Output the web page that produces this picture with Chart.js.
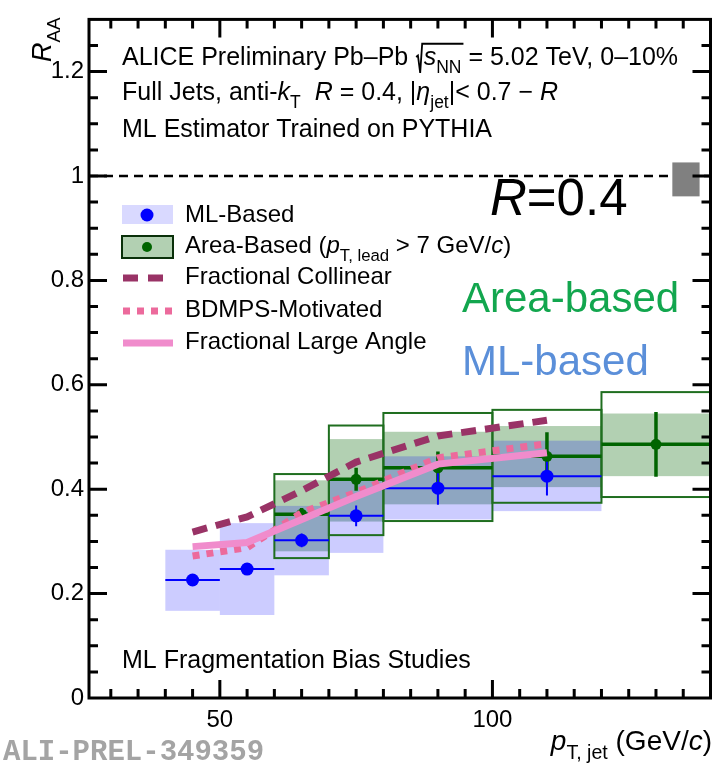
<!DOCTYPE html>
<html>
<head>
<meta charset="utf-8">
<script src="https://cdn.jsdelivr.net/npm/chart.js@4.4.1/dist/chart.umd.min.js"></script>
<style>
  html, body { margin: 0; padding: 0; background: #fff; }
  canvas { display: block; }
</style>
</head>
<body>
<canvas id="raa" width="717" height="768"></canvas>
<script>
// ML-based estimator: bins, values, uncertainties
const ML_LO = [40, 50, 60, 70, 80, 100];
const ML_HI = [50, 60, 70, 80, 100, 120];
const ML_X = [45, 55, 65, 75, 90, 110];
const ML_Y = [0.226, 0.247, 0.302, 0.349, 0.402, 0.425];
const ML_STAT = [0.006, 0.006, 0.013, 0.02, 0.032, 0.037];
const ML_SYS_LO = [0.167, 0.159, 0.235, 0.278, 0.342, 0.358];
const ML_SYS_HI = [0.284, 0.335, 0.368, 0.42, 0.463, 0.493];

// area-based subtraction (pT,lead > 7 GeV/c)
const AREA_LO = [60, 70, 80, 100, 120];
const AREA_HI = [70, 80, 100, 120, 140];
const AREA_X = [65, 75, 90, 110, 130];
const AREA_Y = [0.352, 0.419, 0.441, 0.463, 0.486];
const AREA_STAT = [0.012, 0.022, 0.031, 0.046, 0.062];
const AREA_SYS_LO = [0.281, 0.338, 0.371, 0.404, 0.425];
const AREA_SYS_HI = [0.417, 0.496, 0.51, 0.521, 0.545];
const AREA_SHAPE_LO = [0.268, 0.312, 0.339, 0.374, 0.385];
const AREA_SHAPE_HI = [0.429, 0.522, 0.546, 0.552, 0.586];

// fragmentation bias studies
const MODEL_X = [45, 55, 65, 75, 90, 110];
const COLLINEAR = [0.318, 0.347, 0.397, 0.452, 0.502, 0.532];
const BDMPS = [0.272, 0.288, 0.355, 0.394, 0.46, 0.487];
const LARGE_ANGLE = [0.29, 0.298, 0.342, 0.386, 0.448, 0.47];

// normalisation uncertainty drawn at unity
const NORM_X = [133, 138];
const NORM_Y = [0.961, 1.026];

const X_TICKS = [50, 100];
const Y_TICKS = [0, 0.2, 0.4, 0.6, 0.8, 1, 1.2];

const FONT = '"Liberation Sans", Arial, Helvetica, sans-serif';
const ML_BLUE = '#0000ff';
const AREA_GREEN = '#006400';
const C_COLLINEAR = '#993366';
const C_BDMPS = '#ec6a9c';
const C_LARGE = '#f08ccc';

const toPoints = (xs, ys) => xs.map((v, i) => ({ x: v, y: ys[i] }));

// text with italic / subscript runs, returns end x
function rich(ctx, x, y, runs, size) {
  let cx = x;
  for (const [t, st] of runs) {
    const sub = st.includes('sub');
    const fs = sub ? size * 0.7 : size;
    ctx.font = (st.includes('i') ? 'italic ' : '') + fs + 'px ' + FONT;
    ctx.fillText(t, cx, sub ? y + size * 0.33 : y);
    cx += ctx.measureText(t).width;
  }
  return cx;
}

function richWidth(ctx, runs, size) {
  let w = 0;
  for (const [t, st] of runs) {
    const fs = st.includes('sub') ? size * 0.7 : size;
    ctx.font = (st.includes('i') ? 'italic ' : '') + fs + 'px ' + FONT;
    w += ctx.measureText(t).width;
  }
  return w;
}

const whiteBg = {
  id: 'whiteBg',
  beforeDraw(chart) {
    const { ctx } = chart;
    ctx.save();
    ctx.fillStyle = '#fff';
    ctx.fillRect(0, 0, chart.width, chart.height);
    ctx.restore();
  }
};

// uncertainty boxes, bin-width bars, statistical bars, unity line
const errorBoxes = {
  id: 'errorBoxes',
  beforeDatasetsDraw(chart) {
    const { ctx, chartArea: a, scales: { x, y } } = chart;
    const box = (x0, x1, y0, y1) => {
      const l = x.getPixelForValue(x0), r = x.getPixelForValue(x1);
      const t = y.getPixelForValue(y1), b = y.getPixelForValue(y0);
      return [l, t, r - l, b - t];
    };
    ctx.save();
    ctx.beginPath();
    ctx.rect(a.left, a.top, a.width, a.height);
    ctx.clip();

    // R_AA = 1 reference
    ctx.strokeStyle = '#000';
    ctx.lineWidth = 2.5;
    ctx.setLineDash([9, 6]);
    ctx.beginPath();
    ctx.moveTo(a.left, y.getPixelForValue(1));
    ctx.lineTo(a.right, y.getPixelForValue(1));
    ctx.stroke();
    ctx.setLineDash([]);

    ctx.fillStyle = '#808080';
    ctx.fillRect(...box(NORM_X[0], NORM_X[1], NORM_Y[0], NORM_Y[1]));

    ctx.fillStyle = 'rgba(0,100,0,0.3)';
    AREA_X.forEach((_, i) => ctx.fillRect(...box(AREA_LO[i], AREA_HI[i], AREA_SYS_LO[i], AREA_SYS_HI[i])));

    ctx.fillStyle = 'rgba(0,0,255,0.2)';
    ML_X.forEach((_, i) => ctx.fillRect(...box(ML_LO[i], ML_HI[i], ML_SYS_LO[i], ML_SYS_HI[i])));

    ctx.strokeStyle = '#1f6e1f';
    ctx.lineWidth = 2;
    AREA_X.forEach((_, i) => ctx.strokeRect(...box(AREA_LO[i], AREA_HI[i], AREA_SHAPE_LO[i], AREA_SHAPE_HI[i])));

    const bars = (xs, ys, lo, hi, err, color, w) => {
      ctx.strokeStyle = color;
      ctx.lineWidth = w;
      ctx.beginPath();
      xs.forEach((v, i) => {
        const px = x.getPixelForValue(v), py = y.getPixelForValue(ys[i]);
        ctx.moveTo(x.getPixelForValue(lo[i]), py);
        ctx.lineTo(x.getPixelForValue(hi[i]), py);
        ctx.moveTo(px, y.getPixelForValue(ys[i] - err[i]));
        ctx.lineTo(px, y.getPixelForValue(ys[i] + err[i]));
      });
      ctx.stroke();
    };
    bars(AREA_X, AREA_Y, AREA_LO, AREA_HI, AREA_STAT, AREA_GREEN, 3.5);
    bars(ML_X, ML_Y, ML_LO, ML_HI, ML_STAT, ML_BLUE, 2);
    ctx.restore();
  }
};

// frame with inward ticks on all four sides
const frameTicks = {
  id: 'frameTicks',
  afterDraw(chart) {
    const { ctx, chartArea: a, scales: { x, y } } = chart;
    ctx.save();
    ctx.strokeStyle = '#000';
    ctx.lineWidth = 3;
    ctx.beginPath();
    for (let v = 30; v < 140; v += 5) {
      const px = x.getPixelForValue(v);
      const len = X_TICKS.includes(v) ? 18 : 9;
      ctx.moveTo(px, a.bottom); ctx.lineTo(px, a.bottom - len);
      ctx.moveTo(px, a.top); ctx.lineTo(px, a.top + len);
    }
    for (let k = 1; k < 26; k++) {
      const py = y.getPixelForValue(k * 0.05);
      const len = k % 4 === 0 ? 18 : 9;
      ctx.moveTo(a.left, py); ctx.lineTo(a.left + len, py);
      ctx.moveTo(a.right, py); ctx.lineTo(a.right - len, py);
    }
    ctx.stroke();
    ctx.strokeRect(a.left, a.top, a.width, a.height);
    ctx.restore();
  }
};

// legend, captions and axis titles
const annotations = {
  id: 'annotations',
  afterDraw(chart) {
    const { ctx } = chart;
    ctx.save();
    ctx.fillStyle = '#000';
    ctx.textBaseline = 'alphabetic';
    ctx.textAlign = 'left';
    const S = 25;

    // line 1 with the square root
    let cx = rich(ctx, 122, 65, [['ALICE Preliminary Pb\u2013Pb ', '']], S);
    const r0 = cx + 1;
    const sx = r0 + 0.3 * S;
    const ex = sx + richWidth(ctx, [['s', 'i'], ['NN', 'sub']], S) + 2;
    ctx.strokeStyle = '#000';
    ctx.lineWidth = 1.8;
    ctx.beginPath();
    ctx.moveTo(r0, 65 - 0.32 * S);
    ctx.lineTo(r0 + 0.07 * S, 65 - 0.38 * S);
    ctx.lineTo(r0 + 0.16 * S, 65 + 0.32 * S);
    ctx.lineTo(r0 + 0.24 * S, 65 - 0.85 * S);
    ctx.lineTo(ex, 65 - 0.85 * S);
    ctx.stroke();
    rich(ctx, sx, 65, [['s', 'i'], ['NN', 'sub'], [' = 5.02 TeV, 0\u201310%', '']], S);

    rich(ctx, 122, 100, [['Full Jets, anti-', ''], ['k', 'i'], ['T', 'sub'], ['  ', ''], ['R', 'i'],
      [' = 0.4, |', ''], ['\u03b7', 'i'], ['jet', 'sub'], ['|< 0.7 \u2212 ', ''], ['R', 'i']], S);
    rich(ctx, 122, 137, [['ML Estimator Trained on PYTHIA', '']], S);
    rich(ctx, 122, 668, [['ML Fragmentation Bias Studies', '']], S);

    // legend
    const L = 24;
    ctx.fillStyle = 'rgba(0,0,255,0.15)';
    ctx.fillRect(122, 205, 51, 19);
    ctx.fillStyle = ML_BLUE;
    ctx.beginPath(); ctx.arc(147, 215, 6.5, 0, 2 * Math.PI); ctx.fill();
    ctx.fillStyle = 'rgba(0,100,0,0.3)';
    ctx.fillRect(122, 236, 51, 22);
    ctx.strokeStyle = '#0a300a';
    ctx.lineWidth = 2;
    ctx.strokeRect(122, 236, 51, 22);
    ctx.fillStyle = AREA_GREEN;
    ctx.beginPath(); ctx.arc(147, 247, 5, 0, 2 * Math.PI); ctx.fill();
    const legLine = (yy, color, dash) => {
      ctx.strokeStyle = color;
      ctx.lineWidth = 7;
      ctx.setLineDash(dash);
      ctx.beginPath(); ctx.moveTo(123, yy); ctx.lineTo(173, yy); ctx.stroke();
    };
    legLine(278, C_COLLINEAR, [15, 10]);
    legLine(311, C_BDMPS, [7, 7]);
    legLine(343, C_LARGE, []);
    ctx.setLineDash([]);
    ctx.fillStyle = '#000';
    rich(ctx, 185, 222, [['ML-Based', '']], L);
    rich(ctx, 185, 253, [['Area-Based (', ''], ['p', 'i'], ['T, lead', 'sub'], [' > 7 GeV/', ''], ['c', 'i'], [')', '']], L);
    rich(ctx, 185, 284, [['Fractional Collinear', '']], L);
    rich(ctx, 185, 317, [['BDMPS-Motivated', '']], L);
    rich(ctx, 185, 349, [['Fractional Large Angle', '']], L);

    // big labels
    rich(ctx, 490, 215, [['R', 'i'], ['=0.4', '']], 51);
    ctx.fillStyle = '#12a64e';
    rich(ctx, 462, 312, [['Area-based', '']], 42);
    ctx.fillStyle = '#5b8fd9';
    rich(ctx, 462, 375, [['ML-based', '']], 42);

    // x title, right aligned at the frame edge
    ctx.fillStyle = '#000';
    const xt = [['p', 'i'], ['T, jet', 'sub'], [' (GeV/', ''], ['c', 'i'], [')', '']];
    rich(ctx, 712 - richWidth(ctx, xt, 28), 750, xt, 28);

    // y title, rotated
    ctx.save();
    ctx.translate(51, 62);
    ctx.rotate(-Math.PI / 2);
    rich(ctx, 0, 0, [['R', 'i'], ['AA', 'sub']], 27);
    ctx.restore();

    // preliminary figure id
    ctx.fillStyle = '#a4a4a4';
    ctx.font = 'bold 29px "Liberation Mono", "DejaVu Sans Mono", monospace';
    ctx.fillText('ALI-PREL-349359', 3, 760);
    ctx.restore();
  }
};

new Chart(document.getElementById('raa'), {
  type: 'scatter',
  data: {
    datasets: [
      {
        label: 'Fractional Large Angle',
        type: 'line',
        data: toPoints(MODEL_X, LARGE_ANGLE),
        borderColor: C_LARGE,
        borderWidth: 7,
        pointRadius: 0,
        tension: 0,
        fill: false,
        order: 0
      },
      {
        label: 'BDMPS-Motivated',
        type: 'line',
        data: toPoints(MODEL_X, BDMPS),
        borderColor: C_BDMPS,
        borderWidth: 7,
        borderDash: [7, 7],
        pointRadius: 0,
        tension: 0,
        fill: false,
        order: 1
      },
      {
        label: 'Fractional Collinear',
        type: 'line',
        data: toPoints(MODEL_X, COLLINEAR),
        borderColor: C_COLLINEAR,
        borderWidth: 7,
        borderDash: [15, 9],
        pointRadius: 0,
        tension: 0,
        fill: false,
        order: 2
      },
      {
        label: 'Area-Based',
        data: toPoints(AREA_X, AREA_Y),
        backgroundColor: AREA_GREEN,
        borderWidth: 0,
        pointRadius: 5.5,
        order: 3
      },
      {
        label: 'ML-Based',
        data: toPoints(ML_X, ML_Y),
        backgroundColor: ML_BLUE,
        borderWidth: 0,
        pointRadius: 6.5,
        order: 4
      }
    ]
  },
  options: {
    responsive: false,
    animation: false,
    events: [],
    layout: { padding: { left: 0, right: 4, top: 13, bottom: 0 } },
    plugins: {
      legend: { display: false },
      tooltip: { enabled: false }
    },
    scales: {
      x: {
        type: 'linear',
        min: 26,
        max: 140,
        grid: { display: false, drawTicks: false, tickLength: 0 },
        border: { display: false },
        ticks: { color: '#000', font: { family: FONT, size: 24 }, padding: 8, maxRotation: 0 },
        afterBuildTicks: s => { s.ticks = X_TICKS.map(v => ({ value: v })); },
        afterFit: s => { s.height = 70; }
      },
      y: {
        type: 'linear',
        min: 0,
        max: 1.3,
        grid: { display: false, drawTicks: false, tickLength: 0 },
        border: { display: false },
        ticks: {
          color: '#000',
          font: { family: FONT, size: 24 },
          padding: 5,
          callback: v => String(+v.toFixed(2))
        },
        afterBuildTicks: s => { s.ticks = Y_TICKS.map(v => ({ value: v })); },
        afterFit: s => { s.width = 89; }
      }
    }
  },
  plugins: [whiteBg, errorBoxes, frameTicks, annotations]
});
</script>
</body>
</html>
